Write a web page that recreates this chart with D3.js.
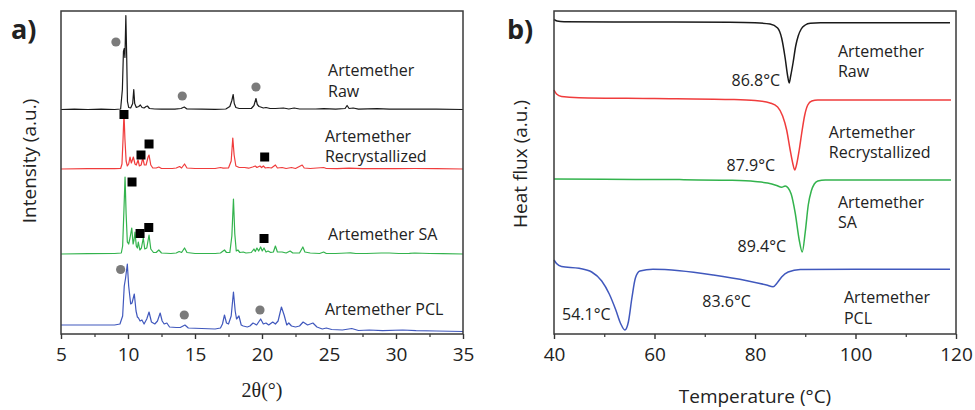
<!DOCTYPE html>
<html>
<head>
<meta charset="utf-8">
<script src="https://cdn.jsdelivr.net/npm/d3@7"></script>
<style>
    body { margin: 0; background: #fff; }
    text { font-family: "Open Sans", "Noto Sans", sans-serif; fill: #222; }
</style>
</head>
<body>
<div id="chart"></div>
<script>

// ---------- panel a) XRD, [2theta, intensity above the trace baseline]
let xrdRaw = [[5,0],[6,0.3],[7,0],[8,0.3],[9,0],[9.45,0.5],[9.58,20],[9.66,58],[9.72,61],[9.77,52],[9.84,94],[9.9,55],[9.96,8],[10.05,2],[10.2,1.5],[10.35,6],[10.43,20],[10.5,6],[10.62,2],[10.8,3],[10.92,4.5],[11.05,2],[11.2,1.5],[11.35,3],[11.45,3.5],[11.6,1],[12.0,0.5],[12.5,0.3],[13.5,0.3],[13.95,1],[14.2,2.5],[14.4,0.5],[15.5,0.3],[16.5,0.2],[17.3,0.5],[17.6,3],[17.75,9],[17.85,15],[17.93,6],[18.05,2],[18.3,1],[18.6,1],[19.2,1],[19.4,4],[19.55,11],[19.65,5],[19.78,3],[19.9,2.5],[20.1,1.5],[20.3,2],[20.6,1],[21.0,1],[21.6,1.5],[22.0,0.5],[22.4,1.5],[22.8,0.5],[24,0.5],[24.6,0.8],[25.5,0.3],[26.2,1],[26.35,4],[26.5,1],[26.8,1.5],[27.2,0.3],[28.6,0.8],[29.5,0.3],[30.5,0.5],[31.5,0.3],[33,0.4],[35,0]];

let xrdRecryst = [[5,0],[7,0.3],[9,0.3],[9.45,0.5],[9.55,5],[9.63,30],[9.7,56],[9.77,30],[9.86,8],[9.95,3],[10.05,5],[10.15,12],[10.25,6],[10.4,12],[10.52,5],[10.62,4],[10.75,9],[10.85,3],[10.98,4],[11.1,11],[11.22,4],[11.35,4],[11.5,12],[11.57,14],[11.7,4],[11.85,1],[12.1,1],[12.3,2],[12.5,0.5],[13.3,0.5],[13.6,1],[13.85,2.5],[14.0,1],[14.22,5],[14.4,1],[15,0.5],[16.5,0.5],[16.9,1.5],[17.1,0.8],[17.5,1],[17.7,8],[17.82,31],[17.92,14],[18.05,3],[18.3,1.5],[18.7,1.5],[19.0,0.8],[19.3,2],[19.5,3],[19.62,1.5],[19.85,3],[19.97,1.5],[20.1,3],[20.25,1],[20.45,1.5],[20.7,1],[21.0,4],[21.15,1],[21.5,1.5],[21.8,0.5],[22.2,1.5],[22.5,0.5],[23.0,4],[23.15,1],[23.6,0.5],[24.6,1.5],[24.8,0.5],[25.6,0.3],[26.5,0.8],[27.5,0.3],[28.8,0.5],[30,0.3],[31.4,0.5],[33,0.3],[35,0]];

let xrdSA = [[5,0],[7,0.3],[9,0.5],[9.5,1],[9.6,8],[9.7,45],[9.78,77],[9.86,40],[9.95,12],[10.05,10],[10.15,16],[10.28,26],[10.38,10],[10.45,14],[10.52,22],[10.62,8],[10.7,6],[10.77,12],[10.88,4],[11.0,6],[11.14,16],[11.25,5],[11.4,6],[11.57,19],[11.7,5],[11.9,1.5],[12.1,1.5],[12.3,4],[12.5,1],[13.2,0.5],[13.6,1],[13.82,2.5],[14.0,1.5],[14.22,6],[14.4,1.5],[15,0.5],[16.5,0.5],[16.9,1],[17.2,4],[17.35,1.5],[17.6,1.5],[17.75,18],[17.87,55],[17.97,20],[18.08,3],[18.2,4],[18.35,1.5],[18.6,2],[18.8,1],[19.2,1.5],[19.4,5],[19.5,2.5],[19.62,6],[19.75,3],[19.9,7],[20.02,3],[20.15,6],[20.3,2],[20.45,3],[20.65,1.5],[20.85,2],[21.0,8],[21.15,2],[21.5,2],[21.8,1],[22.1,3],[22.3,1],[22.8,1],[23.05,7],[23.2,2],[23.6,1],[24.3,0.5],[24.6,2],[24.8,0.5],[25.5,0.5],[26.3,1],[26.6,1.2],[27,0.5],[27.8,0.5],[28.9,1],[29.5,1],[30.2,0.5],[31.0,0.6],[31.4,1],[32.5,0.5],[33.5,0.3],[35,0]];

let xrdPCL = [[5,6],[7,6],[9,6],[9.4,7],[9.6,15],[9.72,45],[9.82,53],[9.95,67],[10.05,45],[10.2,27],[10.3,28],[10.47,37],[10.6,20],[10.7,14],[10.78,13],[10.9,10],[11.04,11],[11.2,7],[11.4,12],[11.57,19],[11.75,9],[12.0,7],[12.2,10],[12.4,18],[12.55,10],[12.7,7],[12.9,8],[13.1,4],[13.6,3.5],[13.9,3.5],[14.25,6],[14.5,3],[15.5,2.5],[16.5,2],[16.9,3],[17.05,7],[17.2,16],[17.35,8],[17.5,7],[17.7,15],[17.87,39],[18.0,20],[18.1,12],[18.28,15],[18.45,6],[18.6,5],[18.9,4],[19.1,5],[19.33,8],[19.6,6],[19.9,12],[20.1,7],[20.3,8],[20.5,6],[20.8,9],[21.0,7],[21.2,10],[21.45,24],[21.65,16],[21.85,6],[22.0,8],[22.2,5],[22.5,4],[22.8,5],[23.07,9],[23.4,6],[23.8,8],[24.1,4],[24.5,2],[24.8,3],[25.2,1.5],[26.0,1],[26.7,2.5],[27.2,0.5],[28,1],[29,0.3],[30.5,1],[31.5,0.3],[33,0],[35,-0.5]];

let xrdSeries = [xrdRaw, xrdRecryst, xrdSA, xrdPCL];
let xrdOffsets = [224.5, 165, 80, 3];

// markers: [2theta, height above trace baseline]
let rawDots = [[9.1,67.5],[14.05,13.5],[19.55,22.5]];
let recrystSquares = [[9.7,54.5],[10.97,14],[11.57,25],[20.2,12]];
let saSquares = [[10.3,72],[10.9,20.5],[11.55,26.5],[20.15,15.5]];
let pclDots = [[9.45,61.5],[14.2,16],[19.85,21]];

let xrdTicks = [5, 10, 15, 20, 25, 30, 35];

// ---------- panel b) DSC, [temperature, heat flux relative to baseline]
let dscRaw = [[40,3.2],[40.6,1.7],[42,0.9],[60,0.7],[75,0.4],[80,-0.1],[83,-1.3],[84.5,-5.3],[85.3,-15.3],[86,-35.3],[86.5,-53.3],[86.8,-60.3],[87.1,-53.3],[87.6,-39.3],[88.1,-23.3],[88.6,-13.3],[89.2,-6.3],[90,-2.3],[91,-0.5],[93,-0.1],[100,0],[118.8,0]];
let dscRecryst = [[40,10],[40.5,6],[41.5,3.5],[45,2.3],[60,1.5],[75,0.5],[80,-0.5],[83,-3],[84.5,-7],[85.5,-16],[86.3,-30],[87,-50],[87.5,-63],[87.9,-70],[88.3,-64],[88.8,-50],[89.3,-33],[89.9,-15],[90.5,-5],[91.3,-1],[92.5,0],[100,0],[119,0]];
let dscSA = [[40,1],[50,0.7],[65,0.4],[75,-0.3],[80,-1.5],[82.5,-3],[84.3,-5.5],[85.3,-7.3],[86,-6],[86.6,-8],[87.2,-14],[88,-33],[88.8,-60],[89.4,-72],[90,-52],[90.6,-25],[91.2,-11],[91.8,-4],[92.5,-1],[94,0],[119,0]];
let dscPCL = [[40,9.3],[40.5,5.8],[41.5,2.8],[45,1],[47.5,-2.7],[49.5,-11.7],[51,-24.7],[52.3,-40.7],[53.3,-54.7],[54.1,-60.7],[54.8,-52.7],[55.5,-28.7],[56.2,-8.7],[57.1,-1.7],[59.7,0],[65,-1.4],[71.7,-5.7],[78.4,-11.4],[82.3,-15.7],[83.6,-17.4],[84.4,-13.7],[85.3,-7.7],[86.6,-2.7],[89,-0.2],[100,0],[118.8,0]];

let dscSeries = [dscRaw, dscRecryst, dscSA, dscPCL];
let dscOffsets = [311.3, 234, 154, 64.7];

let dscTicks = [40, 60, 80, 100, 120];

let colors = ["#1a1a1a", "#f03c3c", "#33b34d", "#4058bd"];

// labels: [x in data units, y in data units, text, anchor]
let xrdLabels = [
    [24.93, 258, "Artemether", "start"], [24.93, 237.5, "Raw", "start"],
    [24.7, 192, "Artemether", "start"], [24.7, 172, "Recrystallized", "start"],
    [24.93, 94, "Artemether SA", "start"],
    [24.7, 19, "Artemether PCL", "start"]
];
let dscLabels = [
    [96.5, 277, "Artemether", "start"], [96.5, 257, "Raw", "start"],
    [85, 248, "86.8°C", "end"],
    [94.7, 196, "Artemether", "start"], [94.7, 176, "Recrystallized", "start"],
    [84, 163, "87.9°C", "end"],
    [96.5, 126, "Artemether", "start"], [96.5, 106, "SA", "start"],
    [86.2, 82, "89.4°C", "end"],
    [97.7, 31, "Artemether", "start"], [97.7, 10, "PCL", "start"],
    [41.6, 14, "54.1°C", "start"],
    [69.5, 27, "83.6°C", "start"]
];

let width = 975,
    height = 410,
    plotTop = 11,
    plotBottom = 334;

let svg = d3.select("#chart").append("svg")
    .attr("width", width)
    .attr("height", height)
    .style("display", "block");

svg.append("rect")
    .attr("width", width)
    .attr("height", height)
    .attr("fill", "#fff");

function drawPanel(opts) {

    let x = d3.scaleLinear().domain(opts.domain).range(opts.range);
    let y = d3.scaleLinear().domain([0, plotBottom - plotTop]).range([plotBottom, plotTop]);

    let g = svg.append("g");

    let line = d3.line()
        .x(d => x(d[0]))
        .y(d => y(d[1]))
        .curve(opts.curve);

    opts.series.forEach(function (s, i) {
        g.append("path")
            .datum(s.map(d => [d[0], d[1] + opts.offsets[i]]))
            .attr("fill", "none")
            .attr("stroke", colors[i])
            .attr("stroke-width", opts.strokeWidth)
            .attr("stroke-linejoin", "round")
            .attr("d", line);
    });

    // minor ticks
    let minor = d3.range(opts.domain[0] + opts.step / 2, opts.domain[1], opts.step);
    g.append("g")
        .attr("transform", "translate(0," + plotBottom + ")")
        .call(d3.axisBottom(x).tickValues(minor).tickSize(3).tickFormat(""))
        .call(a => a.select(".domain").remove())
        .selectAll("line").attr("stroke", "#333").attr("stroke-width", 1.2);

    // major ticks + labels
    let ax = g.append("g")
        .attr("transform", "translate(0," + plotBottom + ")")
        .call(d3.axisBottom(x).tickValues(opts.ticks).tickSize(5).tickPadding(9).tickFormat(d3.format("d")));
    ax.select(".domain").remove();
    ax.selectAll("line").attr("stroke", "#333").attr("stroke-width", 1.4);
    ax.selectAll("text")
        .style("font-family", "'Open Sans', sans-serif")
        .attr("font-size", 19)
        .attr("fill", "#222");

    // frame
    g.append("rect")
        .attr("x", opts.range[0])
        .attr("y", plotTop)
        .attr("width", opts.range[1] - opts.range[0])
        .attr("height", plotBottom - plotTop)
        .attr("fill", "none")
        .attr("stroke", "#3a3a3a")
        .attr("stroke-width", 1.5);

    // axis titles
    g.append("text")
        .attr("x", (opts.range[0] + opts.range[1]) / 2)
        .attr("y", opts.xTitleY)
        .attr("text-anchor", "middle")
        .attr("font-size", opts.xTitleSize)
        .style("font-family", opts.xTitleFont)
        .text(opts.xTitle);

    g.append("text")
        .attr("transform", "translate(" + opts.yTitleX + "," + opts.yTitleCY + ") rotate(-90)")
        .attr("text-anchor", "middle")
        .attr("font-size", 19)
        .text(opts.yTitle);

    // panel letter
    g.append("text")
        .attr("x", opts.letterX)
        .attr("y", 39)
        .attr("font-size", 27)
        .attr("font-weight", "bold")
        .attr("fill", "#111")
        .text(opts.letter);

    // text labels
    g.selectAll(".lbl")
        .data(opts.labels)
        .enter().append("text")
        .attr("class", "lbl")
        .attr("x", d => x(d[0]))
        .attr("y", d => y(d[1]))
        .attr("text-anchor", d => d[3])
        .attr("font-size", 16)
        .text(d => d[2]);

    return {x: x, y: y, g: g};
}

let a = drawPanel({
    domain: [5, 35], range: [61, 463], step: 5, ticks: xrdTicks,
    series: xrdSeries, offsets: xrdOffsets, curve: d3.curveLinear, strokeWidth: 1.2,
    xTitle: "2θ(°)", xTitleY: 397, xTitleSize: 20, xTitleFont: "'Liberation Serif', serif",
    yTitle: "Intensity (a.u.)", yTitleX: 36, yTitleCY: 161,
    letter: "a)", letterX: 11, labels: xrdLabels
});

let b = drawPanel({
    domain: [40, 120], range: [554, 956], step: 20, ticks: dscTicks,
    series: dscSeries, offsets: dscOffsets, curve: d3.curveMonotoneX, strokeWidth: 1.5,
    xTitle: "Temperature (°C)", xTitleY: 403, xTitleSize: 19, xTitleFont: "'Open Sans', sans-serif",
    yTitle: "Heat flux (a.u.)", yTitleX: 527, yTitleCY: 164,
    letter: "b)", letterX: 507, labels: dscLabels
});

// grey dots and black squares on the XRD traces
let dotSets = [[rawDots, 0], [pclDots, 3]];
dotSets.forEach(function (set) {
    a.g.selectAll(null)
        .data(set[0])
        .enter().append("circle")
        .attr("cx", d => a.x(d[0]))
        .attr("cy", d => a.y(d[1] + xrdOffsets[set[1]]))
        .attr("r", 4.6)
        .attr("fill", "#7b7b7b");
});

let squareSets = [[recrystSquares, 1], [saSquares, 2]];
squareSets.forEach(function (set) {
    a.g.selectAll(null)
        .data(set[0])
        .enter().append("rect")
        .attr("x", d => a.x(d[0]) - 4.5)
        .attr("y", d => a.y(d[1] + xrdOffsets[set[1]]) - 4.5)
        .attr("width", 9)
        .attr("height", 9)
        .attr("fill", "#000");
});

</script>
</body>
</html>
